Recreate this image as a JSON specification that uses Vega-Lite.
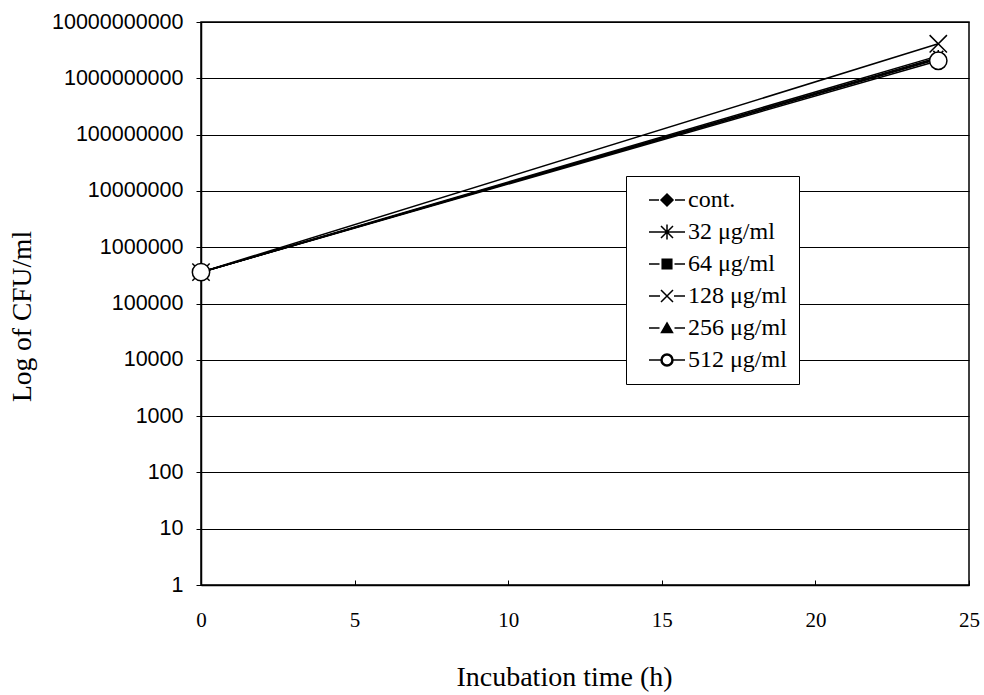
{
  "$schema": "https://vega.github.io/schema/vega-lite/v6.json",
  "width": 768,
  "height": 563,
  "autosize": {"type": "none"},
  "padding": {"left": 201, "top": 22, "right": 15, "bottom": 110},
  "background": "white",
  "config": {
    "view": {"stroke": "black", "strokeWidth": 1.5},
    "axis": {"domainColor": "black", "tickColor": "black", "labelColor": "black", "titleColor": "black", "titleFontWeight": "normal"}
  },
  "data": {
    "values": [
      {"series": "cont.", "time": 0, "cfu": 360000},
      {"series": "cont.", "time": 24, "cfu": 2350000000},
      {"series": "32 μg/ml", "time": 0, "cfu": 360000},
      {"series": "32 μg/ml", "time": 24, "cfu": 2500000000},
      {"series": "64 μg/ml", "time": 0, "cfu": 360000},
      {"series": "64 μg/ml", "time": 24, "cfu": 2200000000},
      {"series": "128 μg/ml", "time": 0, "cfu": 360000},
      {"series": "128 μg/ml", "time": 24, "cfu": 4100000000},
      {"series": "256 μg/ml", "time": 0, "cfu": 360000},
      {"series": "256 μg/ml", "time": 24, "cfu": 2250000000},
      {"series": "512 μg/ml", "time": 0, "cfu": 360000},
      {"series": "512 μg/ml", "time": 24, "cfu": 2050000000}
    ]
  },
  "encoding": {
    "x": {
      "field": "time", "type": "quantitative",
      "scale": {"domain": [0, 25], "nice": false, "zero": false},
      "axis": {
        "title": "Incubation time (h)", "values": [0, 5, 10, 15, 20, 25], "grid": false,
        "tickSize": -5, "labelPadding": 40, "labelBaseline": "middle",
        "labelFont": "Liberation Serif", "labelFontSize": 21, "labelFlush": false,
        "titleFont": "Liberation Serif", "titleFontSize": 28,
        "titleX": 363, "titleY": 92, "titleAlign": "center", "titleBaseline": "middle",
        "domainWidth": 1.5
      }
    },
    "y": {
      "field": "cfu", "type": "quantitative",
      "scale": {"type": "log", "domain": [1, 10000000000], "nice": false},
      "axis": {
        "title": "Log of CFU/ml", "values": [1, 10, 100, 1000, 10000, 100000, 1000000, 10000000, 100000000, 1000000000, 10000000000],
        "format": "d", "grid": true, "gridColor": "black", "gridWidth": 1, "gridOpacity": 1,
        "tickSize": 5, "labelPadding": 13,
        "labelFont": "Liberation Sans", "labelFontSize": 21.5,
        "titleFont": "Liberation Serif", "titleFontSize": 27.5,
        "titleX": -179, "titleY": 294, "titleAlign": "center", "titleBaseline": "middle", "titleAngle": -90,
        "domainWidth": 1.5
      }
    }
  },
  "layer": [
    {
      "mark": {"type": "line", "color": "black", "strokeWidth": 1.5},
      "encoding": {"detail": {"field": "series"}}
    },
    {
      "mark": {"type": "point", "filled": true, "stroke": "black", "strokeWidth": 1.5, "opacity": 1},
      "encoding": {
        "shape": {
          "field": "series", "type": "nominal",
          "scale": {
            "domain": ["cont.", "32 μg/ml", "64 μg/ml", "128 μg/ml", "256 μg/ml", "512 μg/ml"],
            "range": ["diamond", "M-1,-1L1,1M-1,1L1,-1M0,-1.2L0,1.2", "square", "M-1,-1L1,1M-1,1L1,-1", "triangle-up", "circle"]
          },
          "legend": null
        },
        "fill": {
          "field": "series", "type": "nominal",
          "scale": {
            "domain": ["cont.", "32 μg/ml", "64 μg/ml", "128 μg/ml", "256 μg/ml", "512 μg/ml"],
            "range": ["black", "black", "black", "black", "black", "white"]
          },
          "legend": null
        },
        "size": {
          "field": "series", "type": "nominal",
          "scale": {
            "type": "ordinal",
            "domain": ["cont.", "32 μg/ml", "64 μg/ml", "128 μg/ml", "256 μg/ml", "512 μg/ml"],
            "range": [110, 100, 90, 300, 100, 300]
          },
          "legend": null
        }
      }
    },
    {
      "mark": {"type": "point", "filled": true, "color": "black", "stroke": "black", "strokeWidth": 1.3, "opacity": 0},
      "encoding": {
        "shape": {
          "field": "series", "type": "nominal",
          "scale": {
            "domain": ["cont.", "32 μg/ml", "64 μg/ml", "128 μg/ml", "256 μg/ml", "512 μg/ml"],
            "range": [
              "M-1.8,0H-0.8M0.8,0H1.8M0,-0.6L0.6,0L0,0.6L-0.6,0Z",
              "M-1.8,0H1.8M-0.6,-0.6L0.6,0.6M-0.6,0.6L0.6,-0.6M0,-0.75L0,0.75",
              "M-1.8,0H-0.75M0.75,0H1.8M-0.48,-0.48H0.48V0.48H-0.48Z",
              "M-1.8,0H-0.7M0.7,0H1.8M-0.6,-0.6L0.6,0.6M-0.6,0.6L0.6,-0.6",
              "M-1.8,0H-0.75M0.75,0H1.8M0,-0.5L0.55,0.45H-0.55Z",
              "M-1.8,0H-0.6M0.6,0H1.8M-0.6,0A0.6,0.6 0 1,1 0.6,0A0.6,0.6 0 1,1 -0.6,0ZM-0.5,0A0.5,0.5 0 1,0 0.5,0A0.5,0.5 0 1,0 -0.5,0Z"
            ]
          },
          "legend": {
            "title": null, "orient": "none", "legendX": 425, "legendY": 154,
            "symbolSize": 400, "symbolOpacity": 1, "symbolOffset": 17,
            "labelFont": "Liberation Serif", "labelFontSize": 24, "labelColor": "black",
            "strokeColor": "black", "fillColor": "white",
            "padding": 12, "rowPadding": 8, "labelOffset": 9, "labelLimit": 400
          }
        }
      }
    }
  ],
  "resolve": {"scale": {"shape": "independent"}, "legend": {"shape": "independent"}}
}
